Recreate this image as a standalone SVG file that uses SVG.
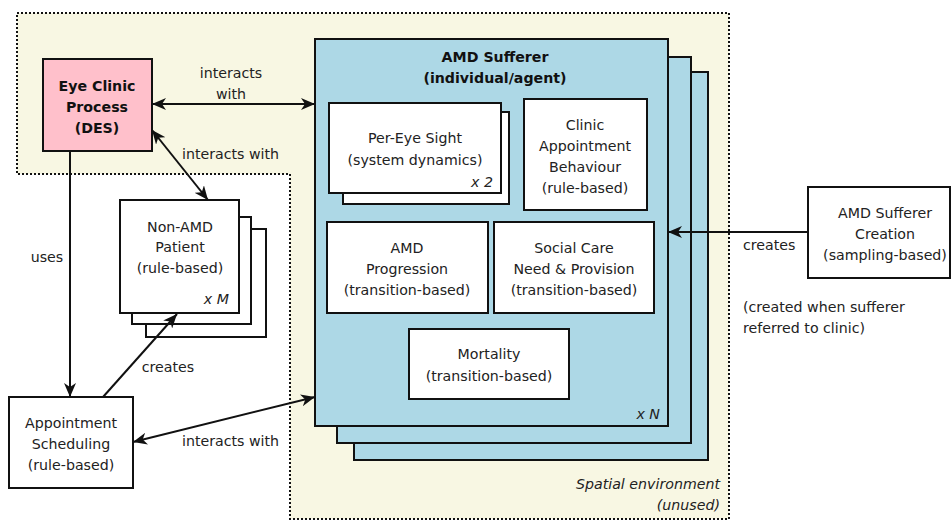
<svg xmlns="http://www.w3.org/2000/svg" width="952" height="521" viewBox="0 0 952 521">
<defs>
<style>
text{font-family:"DejaVu Sans","Verdana",sans-serif;font-size:14.2px;fill:#222;}
.c{text-anchor:middle;}
.r{text-anchor:end;}
.b{font-weight:bold;fill:#111;}
.i{font-style:italic;}
.box{fill:#fff;stroke:#111;stroke-width:2;}
.blue{fill:#ADD8E6;stroke:#111;stroke-width:2;}
.conn{fill:none;stroke:#111;stroke-width:2;}
</style>
<marker id="ah" viewBox="0 0 14 12" refX="14" refY="6" markerWidth="14" markerHeight="12" markerUnits="userSpaceOnUse" orient="auto-start-reverse">
<path d="M0,0 L14,6 L0,12 L4,6 z" fill="#111"/>
</marker>
</defs>
<rect width="952" height="521" fill="#fff"/>

<g id="spatial-environment">
<path d="M17,13 H729 V519 H290 V174 H17 Z" fill="#F8F7E3" stroke="#111" stroke-width="2" stroke-dasharray="2 2"/>
<text class="i r" x="720" y="489">Spatial environment</text>
<text class="i r" x="720" y="510">(unused)</text>
</g>

<g id="amd-sufferer">
<rect class="blue" x="354" y="72" width="354" height="388"/>
<rect class="blue" x="337" y="57" width="354" height="386"/>
<rect class="blue" x="315" y="39" width="353" height="387"/>
<text class="c b" x="495" y="62">AMD Sufferer</text>
<text class="c b" x="495" y="83">(individual/agent)</text>
<text class="i r" x="660" y="419">x N</text>
</g>

<g id="per-eye-sight">
<rect class="box" x="343" y="112" width="166" height="92"/>
<rect class="box" x="329" y="103" width="172" height="90"/>
<text class="c" x="415" y="143">Per-Eye Sight</text>
<text class="c" x="415" y="165">(system dynamics)</text>
<text class="i r" x="493" y="187">x 2</text>
</g>

<g id="clinic-appointment-behaviour">
<rect class="box" x="524" y="99" width="123" height="111"/>
<text class="c" x="585" y="130">Clinic</text>
<text class="c" x="585" y="151">Appointment</text>
<text class="c" x="585" y="172">Behaviour</text>
<text class="c" x="585" y="193">(rule-based)</text>
</g>

<g id="amd-progression">
<rect class="box" x="327" y="222" width="161" height="91"/>
<text class="c" x="407" y="253">AMD</text>
<text class="c" x="407" y="274">Progression</text>
<text class="c" x="407" y="295">(transition-based)</text>
</g>

<g id="social-care">
<rect class="box" x="494" y="222" width="160" height="91"/>
<text class="c" x="574" y="253">Social Care</text>
<text class="c" x="574" y="274">Need &amp; Provision</text>
<text class="c" x="574" y="295">(transition-based)</text>
</g>

<g id="mortality">
<rect class="box" x="409" y="329" width="160" height="70"/>
<text class="c" x="489" y="359">Mortality</text>
<text class="c" x="489" y="381">(transition-based)</text>
</g>

<g id="eye-clinic-process">
<rect x="43" y="59" width="109" height="92" fill="#FFC0CB" stroke="#111" stroke-width="2"/>
<text class="c b" x="97" y="91">Eye Clinic</text>
<text class="c b" x="97" y="112">Process</text>
<text class="c b" x="97" y="133">(DES)</text>
</g>

<g id="non-amd-patient">
<rect class="box" x="146" y="229" width="120" height="108"/>
<rect class="box" x="132" y="217" width="119" height="107"/>
<rect class="box" x="120" y="200" width="119" height="113"/>
<text class="c" x="180" y="232">Non-AMD</text>
<text class="c" x="180" y="252">Patient</text>
<text class="c" x="180" y="273">(rule-based)</text>
<text class="i r" x="229" y="304">x M</text>
</g>

<g id="appointment-scheduling">
<rect class="box" x="9" y="397" width="124" height="91"/>
<text class="c" x="71" y="428">Appointment</text>
<text class="c" x="71" y="449">Scheduling</text>
<text class="c" x="71" y="470">(rule-based)</text>
</g>

<g id="amd-sufferer-creation">
<rect class="box" x="808" y="187" width="142" height="91"/>
<text class="c" x="885" y="218">AMD Sufferer</text>
<text class="c" x="885" y="239">Creation</text>
<text class="c" x="885" y="260">(sampling-based)</text>
<text x="743" y="312">(created when sufferer</text>
<text x="743" y="333">referred to clinic)</text>
</g>

<g id="connectors">
<line class="conn" x1="152" y1="104" x2="315" y2="104" marker-start="url(#ah)" marker-end="url(#ah)"/>
<text class="c" x="231" y="78">interacts</text>
<text class="c" x="231" y="99">with</text>
<line class="conn" x1="152" y1="130" x2="208" y2="200" marker-start="url(#ah)" marker-end="url(#ah)"/>
<text x="182" y="159">interacts with</text>
<line class="conn" x1="70" y1="151" x2="70" y2="397" marker-end="url(#ah)"/>
<text class="c" x="47" y="262">uses</text>
<line class="conn" x1="103" y1="397" x2="177" y2="314" marker-end="url(#ah)"/>
<text class="c" x="168" y="372">creates</text>
<line class="conn" x1="133" y1="442" x2="315" y2="397" marker-start="url(#ah)" marker-end="url(#ah)"/>
<text x="182" y="446">interacts with</text>
<line class="conn" x1="808" y1="232" x2="668" y2="232" marker-end="url(#ah)"/>
<text x="743" y="250">creates</text>
</g>
</svg>
